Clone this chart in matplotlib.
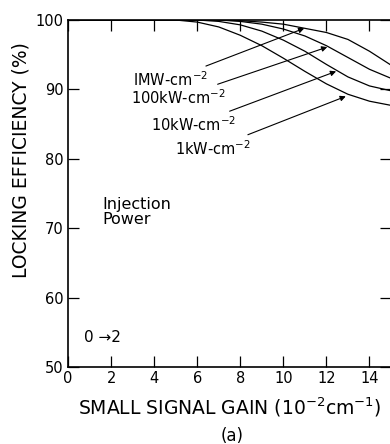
import numpy as np
import matplotlib
matplotlib.use("Agg")
import matplotlib.pyplot as plt

plt.rcParams['font.family'] = ['DejaVu Sans']

# small signal gain (10^-2 cm^-1) and locking efficiency (%)
gain = [0, 5, 6, 7, 8, 9, 10, 11, 12, 13, 14, 15]
eff_1kw = [100, 100, 99.7, 99.0, 97.8, 96.3, 94.5, 92.6, 90.8, 89.3, 88.3, 87.7]
eff_10kw = [100, 100, 100, 99.8, 99.3, 98.4, 97.1, 95.5, 93.6, 91.8, 90.5, 89.8]
eff_100kw = [100, 100, 100, 100, 99.8, 99.4, 98.7, 97.7, 96.3, 94.6, 92.9, 91.6]
eff_1mw = [100, 100, 100, 100, 99.9, 99.7, 99.4, 98.8, 98.2, 97.2, 95.5, 93.5]

labels = ['IMW-cm$^{-2}$', '100kW-cm$^{-2}$', '10kW-cm$^{-2}$', '1kW-cm$^{-2}$']
# label anchor (gain, eff) and arrow tip (gain, eff)
label_pos = [(6.5, 91.4), (7.3, 88.8), (7.8, 84.9), (8.5, 81.5)]
tip_pos = [(10.97, 98.8), (12.04, 96.1), (12.45, 92.6), (12.9, 89.0)]

fig = plt.figure(figsize=(3.9, 4.44), dpi=100)
ax = fig.add_axes([68/390, 77/444, 323/390, 347/444])

for e in [eff_1kw, eff_10kw, eff_100kw, eff_1mw]:
    ax.plot(gain, e, color='black', lw=0.9)

for lab, lp, tp in zip(labels, label_pos, tip_pos):
    ax.annotate(lab, xy=tp, xytext=lp, ha='right', va='center', fontsize=10.5,
                arrowprops=dict(arrowstyle='-|>', color='black', lw=0.8,
                                mutation_scale=8, shrinkA=3, shrinkB=0))

ax.text(1.6, 72.3, 'Injection\nPower', fontsize=11.5, ha='left', va='center',
        linespacing=1.0)
ax.text(0.75, 54.2, '0 \u21922', fontsize=11, ha='left', va='center')

ax.set_xlim(0, 15)
ax.set_ylim(50, 100)
ax.set_xticks(np.arange(0, 15, 2))
ax.set_yticks(np.arange(50, 101, 10))
ax.tick_params(direction='in', length=8, width=0.9, top=True, right=True,
               labelsize=10.5, pad=3)
for s in ax.spines.values():
    s.set_linewidth(1.2)

ax.set_xlabel('SMALL SIGNAL GAIN (10$^{-2}$cm$^{-1}$)', fontsize=13.5, labelpad=7)
fig.text(21/390, 1 - 160/444, 'LOCKING EFFICIENCY (%)', rotation=90,
         ha='center', va='center', fontsize=13.5)
fig.text(232/390, 1 - 436/444, '(a)', ha='center', va='center', fontsize=12)

fig.savefig('out.png', dpi=100)
